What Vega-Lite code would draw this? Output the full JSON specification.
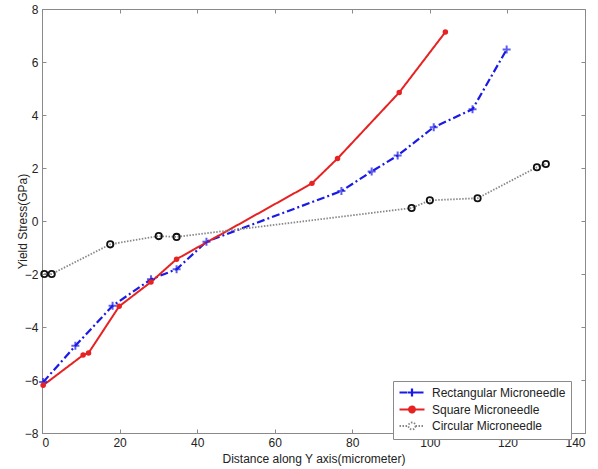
{
  "$schema": "https://vega.github.io/schema/vega-lite/v6.json",
  "width": 543,
  "height": 424,
  "autosize": {"type": "none"},
  "padding": {"left": 42, "top": 9, "right": 13, "bottom": 36},
  "background": "white",
  "config": {
    "font": "Liberation Sans",
    "view": {"stroke": "#8a8a8a"},
    "axis": {"grid": false, "domainColor": "#8a8a8a", "tickColor": "#8a8a8a", "labelColor": "#222", "titleColor": "#222", "labelFontSize": 12, "titleFontSize": 12, "titleFontWeight": "normal", "tickSize": -4, "labelPadding": 8},
    "axisTop": {"labels": false, "title": null},
    "axisRight": {"labels": false, "title": null}
  },
  "data": {"values": [
    {"s": "Rectangular Microneedle", "x": 0.3, "y": -6.08},
    {"s": "Rectangular Microneedle", "x": 8.6, "y": -4.71},
    {"s": "Rectangular Microneedle", "x": 18.2, "y": -3.2},
    {"s": "Rectangular Microneedle", "x": 28.1, "y": -2.2},
    {"s": "Rectangular Microneedle", "x": 34.7, "y": -1.82},
    {"s": "Rectangular Microneedle", "x": 42.4, "y": -0.78},
    {"s": "Rectangular Microneedle", "x": 77.2, "y": 1.13},
    {"s": "Rectangular Microneedle", "x": 85, "y": 1.87},
    {"s": "Rectangular Microneedle", "x": 91.7, "y": 2.47},
    {"s": "Rectangular Microneedle", "x": 101, "y": 3.54},
    {"s": "Rectangular Microneedle", "x": 111, "y": 4.22},
    {"s": "Rectangular Microneedle", "x": 119.8, "y": 6.47},
    {"s": "Square Microneedle", "x": 0.3, "y": -6.2},
    {"s": "Square Microneedle", "x": 10.6, "y": -5.06},
    {"s": "Square Microneedle", "x": 12, "y": -4.98},
    {"s": "Square Microneedle", "x": 19.9, "y": -3.22},
    {"s": "Square Microneedle", "x": 28.1, "y": -2.3},
    {"s": "Square Microneedle", "x": 34.7, "y": -1.44},
    {"s": "Square Microneedle", "x": 69.6, "y": 1.42},
    {"s": "Square Microneedle", "x": 76.2, "y": 2.36},
    {"s": "Square Microneedle", "x": 92.1, "y": 4.85},
    {"s": "Square Microneedle", "x": 104, "y": 7.13},
    {"s": "Circular Microneedle", "x": 0.6, "y": -2.0},
    {"s": "Circular Microneedle", "x": 2.5, "y": -2.0},
    {"s": "Circular Microneedle", "x": 17.6, "y": -0.88},
    {"s": "Circular Microneedle", "x": 30.1, "y": -0.57},
    {"s": "Circular Microneedle", "x": 34.7, "y": -0.6},
    {"s": "Circular Microneedle", "x": 95.3, "y": 0.49},
    {"s": "Circular Microneedle", "x": 100, "y": 0.78},
    {"s": "Circular Microneedle", "x": 112.3, "y": 0.86},
    {"s": "Circular Microneedle", "x": 127.6, "y": 2.03},
    {"s": "Circular Microneedle", "x": 129.9, "y": 2.15}
  ]},
  "layer": [
    {
      "mark": {"type": "line"},
      "encoding": {
        "x": {"field": "x", "type": "quantitative", "scale": {"domain": [0, 140], "nice": false}, "axis": {"orient": "bottom", "values": [0,20,40,60,80,100,120,140], "title": "Distance along Y axis(micrometer)", "titlePadding": 5}},
        "y": {"field": "y", "type": "quantitative", "scale": {"domain": [-8, 8], "nice": false}, "axis": {"orient": "left", "values": [-8,-6,-4,-2,0,2,4,6,8], "title": "Yield Stress(GPa)", "titlePadding": -5}},
        "color": {"field": "s", "type": "nominal", "sort": ["Rectangular Microneedle", "Square Microneedle", "Circular Microneedle"],
          "scale": {"domain": ["Rectangular Microneedle", "Square Microneedle", "Circular Microneedle"], "range": ["#1a1ae6", "#e62222", "#888888"]},
          "legend": {"title": null, "orient": "none", "legendX": 351, "legendY": 372, "strokeColor": "#8a8a8a", "fillColor": "white", "padding": 5, "labelFontSize": 12, "labelColor": "#222", "symbolType": "stroke", "symbolSize": 100, "symbolStrokeWidth": 2, "labelOffset": 21, "rowPadding": 1.5,
            "encode": {"symbols": {"update": {
              "shape": {"signal": "datum.value === 'Rectangular Microneedle' ? 'M-1,0H4M0.7,0H2.3M1.5,-0.8V0.8' : datum.value === 'Square Microneedle' ? 'M-1,0H4M2.1,0A0.6,0.6 0 1 1 0.9,0A0.6,0.6 0 1 1 2.1,0' : 'M-1,0H0.8M2.2,0H4M2.2,0A0.7,0.7 0 1 1 0.8,0A0.7,0.7 0 1 1 2.2,0'"},
              "fill": {"signal": "datum.value === 'Square Microneedle' ? '#e62222' : 'transparent'"}
            }}}}},
        "strokeDash": {"field": "s", "type": "nominal", "sort": ["Rectangular Microneedle", "Square Microneedle", "Circular Microneedle"],
          "scale": {"domain": ["Rectangular Microneedle", "Square Microneedle", "Circular Microneedle"], "range": [[8, 3, 2, 3], [1, 0], [1.5, 1.5]]}},
        "strokeWidth": {"field": "s", "type": "nominal", "scale": {"domain": ["Rectangular Microneedle", "Square Microneedle", "Circular Microneedle"], "range": [2.2, 1.8, 1.2]}, "legend": null}
      }
    },
    {
      "transform": [{"filter": "datum.s === 'Rectangular Microneedle'"}],
      "mark": {"type": "point", "filled": false, "size": 64, "strokeWidth": 2, "shape": "M-1,0H1M0,-1V1", "color": "#1a1ae6"},
      "encoding": {
        "x": {"field": "x", "type": "quantitative", "axis": {"orient": "top", "values": [0,20,40,60,80,100,120,140], "labels": false, "title": "", "domain": false}},
        "y": {"field": "y", "type": "quantitative", "axis": {"orient": "right", "values": [-8,-6,-4,-2,0,2,4,6,8], "labels": false, "title": "", "domain": false}}
      }
    },
    {
      "transform": [{"filter": "datum.s === 'Square Microneedle'"}],
      "mark": {"type": "point", "filled": true, "size": 30, "shape": "circle", "color": "#e62222", "opacity": 1},
      "encoding": {
        "x": {"field": "x", "type": "quantitative", "axis": null},
        "y": {"field": "y", "type": "quantitative", "axis": null}
      }
    },
    {
      "transform": [{"filter": "datum.s === 'Circular Microneedle'"}],
      "mark": {"type": "point", "filled": false, "size": 40, "strokeWidth": 1.8, "shape": "circle", "color": "#111111", "opacity": 1},
      "encoding": {
        "x": {"field": "x", "type": "quantitative", "axis": null},
        "y": {"field": "y", "type": "quantitative", "axis": null}
      }
    }
  ]
}
